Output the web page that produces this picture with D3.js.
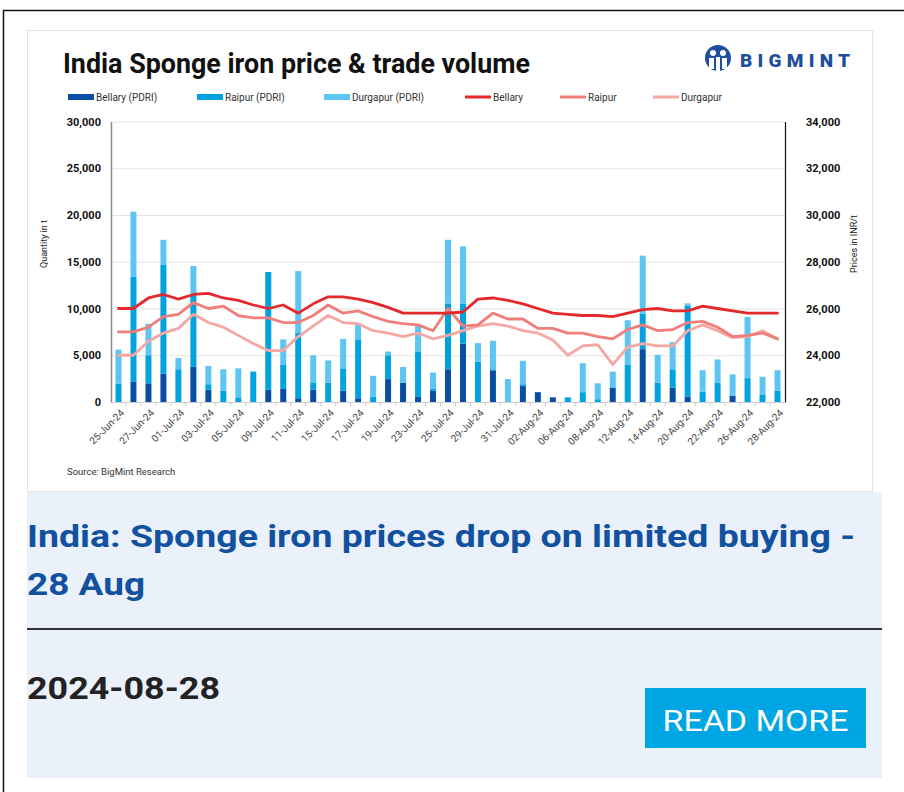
<!DOCTYPE html>
<html>
<head>
<meta charset="utf-8">
<style>
  body { margin: 0; background: #fff; }
  svg { display: block; font-family: Roboto, "Noto Sans", sans-serif; }
  .tick text { font-family: Roboto, sans-serif; }
</style>
</head>
<body>
<svg width="904" height="792"></svg>
<script src="https://cdn.jsdelivr.net/npm/d3@7/dist/d3.min.js"></script>
<script>
// trading days shown on the chart
const dates = ["25-Jun-24","26-Jun-24","27-Jun-24","28-Jun-24","01-Jul-24","02-Jul-24","03-Jul-24","04-Jul-24",
  "05-Jul-24","08-Jul-24","09-Jul-24","10-Jul-24","11-Jul-24","12-Jul-24","15-Jul-24","16-Jul-24","17-Jul-24",
  "18-Jul-24","19-Jul-24","22-Jul-24","23-Jul-24","24-Jul-24","25-Jul-24","26-Jul-24","29-Jul-24","30-Jul-24",
  "31-Jul-24","01-Aug-24","02-Aug-24","05-Aug-24","06-Aug-24","07-Aug-24","08-Aug-24","09-Aug-24","12-Aug-24",
  "13-Aug-24","14-Aug-24","19-Aug-24","20-Aug-24","21-Aug-24","22-Aug-24","23-Aug-24","26-Aug-24","27-Aug-24","28-Aug-24"]

// trade volume (t), stacked bars
const bellaryVol  = [0,2200,2000,3050,0,3750,1300,0,0,0,1300,1400,400,1300,0,1200,400,0,2450,2050,550,1200,3500,6250,0,3400,0,1700,1050,500,0,0,0,1550,0,5650,0,1550,550,0,0,650,0,0,0]
const raipurVol   = [1950,11200,3000,11600,3500,7800,600,1200,500,3250,12600,2600,7000,800,2050,2400,6300,550,2550,0,4800,250,7000,4250,4300,0,0,200,0,0,500,1050,300,0,4000,3800,2050,1950,9750,1100,2050,0,2550,750,1200]
const durgapurVol = [3650,6950,3350,2700,1200,3000,1950,2300,3100,0,0,2700,6600,2900,2400,3150,1700,2250,400,1700,2850,1700,6850,6150,2000,3150,2450,2500,0,0,0,3100,1700,1700,4750,6200,3000,2900,250,2300,2500,2300,6550,1950,2200]

// prices (INR/t), lines
const bellaryPrice  = [26000,26000,26450,26600,26400,26600,26650,26450,26350,26150,26000,26150,25800,26200,26500,26500,26400,26250,26050,25800,25800,25800,25800,25850,26400,26450,26350,26200,26000,25800,25750,25700,25700,25650,25800,25950,26000,25900,25900,26100,26000,25900,25800,25800,25800]
const raipurPrice   = [25000,25000,25200,25650,25750,26250,26000,26100,25700,25600,25600,25400,25400,25700,26150,25800,25900,25650,25450,25350,25300,25050,26000,25250,25300,25800,25550,25550,25150,25150,24950,24950,24800,24700,25100,25300,25050,25100,25400,25450,25200,24800,24850,24950,24700]
const durgapurPrice = [24000,24000,24600,24950,25150,25750,25400,25200,24850,24500,24200,24200,24800,25250,25700,25400,25350,25050,24950,24800,24950,24700,24850,25050,25250,25350,25250,25050,24950,24650,24000,24400,24450,23600,24350,24500,24400,24400,25050,25300,25050,24750,24800,25050,24700]

const volTicks = [0,5000,10000,15000,20000,25000,30000]
const priceTicks = [22000,24000,26000,28000,30000,32000,34000]

const barKeys = ["Bellary (PDRI)","Raipur (PDRI)","Durgapur (PDRI)"]
const barColors = ["#0a4ea3","#00a3e0","#5cc5f2"]
const lineKeys = ["Bellary","Raipur","Durgapur"]
const lineColors = ["#e5282b","#f07e7a","#f5a7a3"]

const svg = d3.select("svg")

// page frame
svg.append("path").attr("d","M3.5,792 V10.5 H904")
  .attr("fill","none").attr("stroke","#111").attr("stroke-width",1.5)

// chart card
svg.append("rect").attr("x",27.5).attr("y",30.5).attr("width",845).attr("height",461)
  .attr("fill","#fff").attr("stroke","#e2e2e2")

svg.append("text").attr("x",63).attr("y",73)
  .attr("font-size",27).attr("font-weight",700).attr("fill","#111")
  .attr("textLength",467).attr("lengthAdjust","spacingAndGlyphs")
  .text("India Sponge iron price & trade volume")

// BigMint logo
const logo = svg.append("g").attr("transform","translate(718,58)")
logo.append("circle").attr("r",13).attr("fill","#1d4f9e")
logo.append("circle").attr("cx",-5).attr("cy",-5).attr("r",3).attr("fill","#fff")
logo.append("circle").attr("cx",5).attr("cy",-5).attr("r",3).attr("fill","#fff")
logo.append("path").attr("d","M-9,0 h5 v11 h-5z M4,0 h5 v11 h-5z M-2,-1 h4 v14 h-4z").attr("fill","#fff")
logo.append("circle").attr("cx",0).attr("cy",-8).attr("r",2.2).attr("fill","#1d4f9e")
svg.append("text").attr("x",740).attr("y",67)
  .attr("font-size",19).attr("font-weight",900).attr("fill","#1d4f9e")
  .attr("textLength",110).attr("lengthAdjust","spacing")
  .text("BIGMINT")

// legend
const legendX = [68,197,324,465,560,653]
const legend = svg.append("g").attr("font-size",10).attr("fill","#333")
barKeys.forEach((k,i) => {
  legend.append("rect").attr("x",legendX[i]).attr("y",94).attr("width",26).attr("height",6).attr("fill",barColors[i])
  legend.append("text").attr("x",legendX[i]+28).attr("y",100.5).text(k)
})
lineKeys.forEach((k,i) => {
  legend.append("rect").attr("x",legendX[i+3]).attr("y",95.5).attr("width",26).attr("height",3).attr("fill",lineColors[i])
  legend.append("text").attr("x",legendX[i+3]+28).attr("y",100.5).text(k)
})

// scales
const plotLeft = 111, plotRight = 785, plotTop = 121.5, plotBottom = 402
const x = d3.scaleBand().domain(dates).range([plotLeft,plotRight]).paddingInner(0.6).paddingOuter(0.3)
const yVol = d3.scaleLinear().domain([0,30000]).range([plotBottom,plotTop])
const yPrice = d3.scaleLinear().domain([22000,34000]).range([plotBottom,plotTop])

// gridlines
svg.append("g").attr("transform",`translate(${plotLeft},0)`)
  .call(d3.axisLeft(yVol).tickValues(volTicks).tickSize(-(plotRight-plotLeft)).tickFormat(""))
  .call(g => g.select(".domain").remove())
  .call(g => g.selectAll("line").attr("stroke","#e4e4e4").attr("stroke-width",1.2))

// stacked bars
const table = dates.map((d,i) => ({date:d, b:bellaryVol[i], r:raipurVol[i], g:durgapurVol[i]}))
const stack = d3.stack().keys(["b","r","g"])(table)
svg.append("g").selectAll("g").data(stack).join("g")
  .attr("fill",(d,i) => barColors[i])
  .selectAll("rect").data(d => d).join("rect")
  .attr("x",d => x(d.data.date))
  .attr("width",x.bandwidth())
  .attr("y",d => yVol(d[1]))
  .attr("height",d => yVol(d[0]) - yVol(d[1]))

// lines
const line = d3.line().x((d,i) => x(dates[i]) + x.bandwidth()/2).y(d => yPrice(d))
const prices = [durgapurPrice, raipurPrice, bellaryPrice]
const pColors = [lineColors[2], lineColors[1], lineColors[0]]
prices.forEach((p,i) => {
  svg.append("path").datum(p).attr("d",line)
    .attr("fill","none").attr("stroke",pColors[i]).attr("stroke-width",2.8)
    .attr("stroke-linejoin","round").attr("stroke-linecap","round")
})

// axes
svg.append("g").attr("transform",`translate(${plotLeft},0)`)
  .call(d3.axisLeft(yVol).tickValues(volTicks).tickSize(0).tickPadding(10).tickFormat(d3.format(",")))
  .call(g => g.select(".domain").attr("stroke","#888").attr("stroke-width",1.5))
  .call(g => g.selectAll("text").attr("font-size",11).attr("font-weight",700).attr("fill","#111"))

svg.append("g").attr("transform",`translate(${plotRight},0)`)
  .call(d3.axisRight(yPrice).tickValues(priceTicks).tickSize(0).tickPadding(21).tickFormat(d3.format(",")))
  .call(g => g.select(".domain").attr("stroke","#111").attr("stroke-width",1.2))
  .call(g => g.selectAll("text").attr("font-size",11).attr("font-weight",700).attr("fill","#111"))

const xAxis = svg.append("g").attr("transform",`translate(0,${plotBottom})`)
  .call(d3.axisBottom(x).tickValues(dates.filter((d,i) => i % 2 === 0)).tickSize(0))
xAxis.select(".domain").attr("stroke","#ccc")
xAxis.selectAll("text")
  .attr("font-size",10).attr("fill","#444")
  .attr("text-anchor","end")
  .attr("x",0).attr("y",0).attr("dy","0.35em")
  .attr("transform","translate(4,9) rotate(-45)")
// small separators between categories
svg.append("g").selectAll("line").data(dates.slice(1)).join("line")
  .attr("x1",d => x(d) - x.step()*x.paddingInner()/2).attr("x2",d => x(d) - x.step()*x.paddingInner()/2)
  .attr("y1",plotBottom).attr("y2",plotBottom + 4).attr("stroke","#ccc")

// axis titles
svg.append("text").attr("transform","translate(47,244) rotate(-90)")
  .attr("text-anchor","middle").attr("font-size",9).attr("fill","#222").text("Quantity in t")
svg.append("text").attr("transform","translate(857,244) rotate(-90)")
  .attr("text-anchor","middle").attr("font-size",9).attr("fill","#222").text("Prices in INR/t")

svg.append("text").attr("x",67).attr("y",475).attr("font-size",9.5).attr("fill","#333")
  .text("Source: BigMint Research")

// article panel
svg.append("rect").attr("x",27).attr("y",492).attr("width",855).attr("height",286).attr("fill","#ebf1fa")
svg.append("text").attr("x",27).attr("y",547).attr("font-size",31).attr("font-weight",700).attr("fill","#1250a0")
  .attr("textLength",828).attr("lengthAdjust","spacingAndGlyphs")
  .text("India: Sponge iron prices drop on limited buying -")
svg.append("text").attr("x",27).attr("y",595).attr("font-size",31).attr("font-weight",700).attr("fill","#1250a0")
  .attr("textLength",118).attr("lengthAdjust","spacingAndGlyphs")
  .text("28 Aug")
svg.append("rect").attr("x",27).attr("y",628).attr("width",855).attr("height",2).attr("fill","#333")
svg.append("text").attr("x",27).attr("y",699).attr("font-size",32).attr("font-weight",700).attr("fill","#222")
  .attr("textLength",193).attr("lengthAdjust","spacingAndGlyphs")
  .text("2024-08-28")
svg.append("rect").attr("x",645).attr("y",688).attr("width",221).attr("height",60).attr("fill","#00a6e3")
svg.append("text").attr("x",755.5).attr("y",731).attr("text-anchor","middle")
  .attr("font-size",30).attr("fill","#fff")
  .attr("textLength",186).attr("lengthAdjust","spacingAndGlyphs")
  .text("READ MORE")
</script>
</body>
</html>
